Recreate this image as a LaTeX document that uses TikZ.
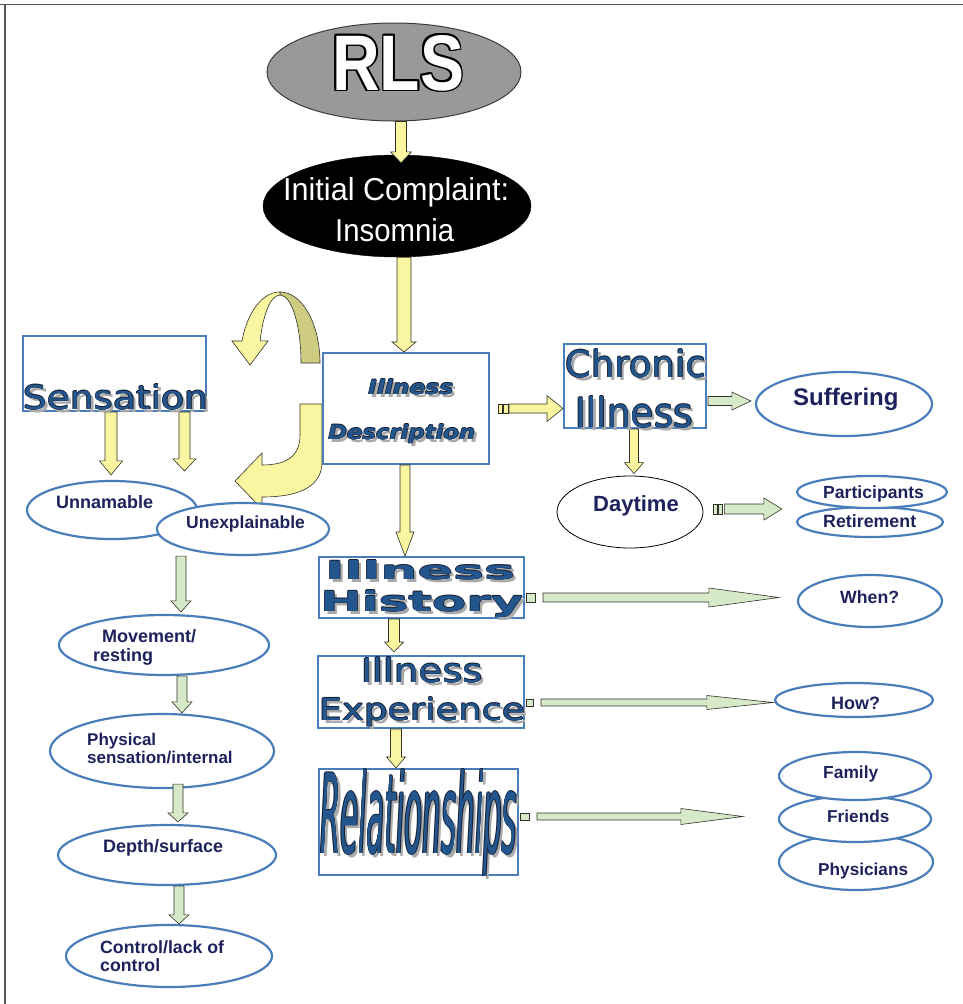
\documentclass[tikz,border=0pt]{standalone}
\usepackage{fontspec}
\setmainfont{Liberation Sans}
\newfontfamily\dvs{DejaVu Sans}
\usetikzlibrary{shapes.geometric,calc}
\definecolor{boxblue}{RGB}{74,126,187}
\definecolor{navy}{RGB}{30,34,92}
\definecolor{txtblue}{RGB}{36,86,142}
\definecolor{outlc}{RGB}{20,30,50}
\definecolor{shgray}{RGB}{170,170,170}
\definecolor{ayel}{RGB}{249,245,160}
\definecolor{aolive}{RGB}{206,204,128}
\definecolor{agreen}{RGB}{214,234,202}
\definecolor{aline}{RGB}{50,50,40}
\definecolor{rlsgray}{RGB}{153,153,153}
\definecolor{framec}{RGB}{85,85,85}

\newcommand\fancy[1]{\leavevmode
 \rlap{\kern3pt\raisebox{-3pt}{\color{shgray}#1}}%
 \rlap{\kern0.7pt\color{outlc}#1}%
 \rlap{\kern-0.7pt\color{outlc}#1}%
 \rlap{\raisebox{0.7pt}{\color{outlc}#1}}%
 \rlap{\raisebox{-0.7pt}{\color{outlc}#1}}%
 {\color{txtblue}#1}}
\newcommand\outlinedtxt[1]{\leavevmode
 \rlap{\kern1.8pt\color{black}#1}%
 \rlap{\kern-1.8pt\color{black}#1}%
 \rlap{\raisebox{1.8pt}{\color{black}#1}}%
 \rlap{\raisebox{-1.8pt}{\color{black}#1}}%
 \rlap{\kern1.3pt\raisebox{1.3pt}{\color{black}#1}}%
 \rlap{\kern-1.3pt\raisebox{1.3pt}{\color{black}#1}}%
 \rlap{\kern1.3pt\raisebox{-1.3pt}{\color{black}#1}}%
 \rlap{\kern-1.3pt\raisebox{-1.3pt}{\color{black}#1}}%
 {\color{white}#1}}

% vertical block arrow: fill, start, end, shaft half, head half, head length
\newcommand\varr[6]{\draw[blk,fill=#1] let \p1=#2, \p2=#3 in
 (\x1-#4pt,\y1) -- (\x1-#4pt,\y2+#6pt) -- (\x1-#5pt,\y2+#6pt) -- (\x1,\y2)
 -- (\x1+#5pt,\y2+#6pt) -- (\x1+#4pt,\y2+#6pt) -- (\x1+#4pt,\y1) -- cycle;}
% horizontal block arrow
\newcommand\harr[6]{\draw[blk,fill=#1] let \p1=#2, \p2=#3 in
 (\x1,\y1+#4pt) -- (\x2-#6pt,\y1+#4pt) -- (\x2-#6pt,\y1+#5pt) -- (\x2,\y1)
 -- (\x2-#6pt,\y1-#5pt) -- (\x2-#6pt,\y1-#4pt) -- (\x1,\y1-#4pt) -- cycle;}
% tail bar: fill, ref point, x from, x to, half height
\newcommand\tailbar[5]{\draw[blk,fill=#1] let \p1=#2 in
 (\x1+#3pt,\y1-#5pt) rectangle (\x1+#4pt,\y1+#5pt);}

\tikzset{
 oval/.style={ellipse, draw=boxblue, line width=2.2pt, fill=white, inner sep=0pt},
 box/.style={rectangle, draw=boxblue, line width=2pt, fill=white, inner sep=0pt},
 lbl/.style={anchor=base west, inner sep=0pt, text=navy, font=\bfseries\fontsize{#1pt}{#1pt}\selectfont},
 lbl/.default=17.5,
 big/.style={anchor=base west, inner sep=0pt},
 blk/.style={draw=aline, line width=0.6pt, line join=miter},
}

\begin{document}
\begin{tikzpicture}[x=1pt,y=1pt]
\useasboundingbox (0,0) rectangle (963,-1004);
\fill[white] (0,0) rectangle (963,-1004);
% frame
\draw[framec, line width=1.6pt] (0,-4.5) -- (963,-4.5);
\draw[framec, line width=1.4pt] (5,-4.5) -- (5,-1004);

% curved ribbon arrows
\draw[blk,fill=aolive] (280,-292) arc[start angle=90, end angle=0, x radius=40, y radius=71]
  -- (301,-363) arc[start angle=0, end angle=90, x radius=21, y radius=68] -- cycle;
\draw[blk,fill=ayel] (232,-341) -- (242,-341) arc[start angle=162, end angle=90, x radius=40, y radius=71]
  -- (280,-295) arc[start angle=90, end angle=161, x radius=21, y radius=68]
  -- (268,-341) -- (250,-365) -- cycle;
\draw[blk,fill=ayel] (300,-404) -- (322,-404) -- (322,-462) .. controls (322,-485) and (302,-497) .. (262,-497)
  -- (262,-509) -- (235,-481) -- (262,-453) -- (262,-465) .. controls (288,-465) and (300,-455) .. (300,-435) -- cycle;

% top ellipses
\node[ellipse, draw={rgb,255:red,60;green,60;blue,60}, line width=1pt, fill=rlsgray, minimum width=254pt, minimum height=98pt, inner sep=0pt] (rls) at (394,-72) {};
\node[ellipse, draw=black, fill=black, minimum width=268pt, minimum height=102pt, inner sep=0pt] (init) at (397,-206) {};

% boxes
\node[box, minimum width=183pt, minimum height=75pt] (sens) at (114.5,-373.5) {};
\node[box, minimum width=166pt, minimum height=111pt] (desc) at (406,-408.5) {};
\node[box, minimum width=142pt, minimum height=84pt] (chron) at (635,-386) {};
\node[box, minimum width=205pt, minimum height=61pt] (hist) at (421.5,-587.5) {};
\node[box, minimum width=206pt, minimum height=72pt] (exp) at (421,-692) {};
\node[box, minimum width=199pt, minimum height=106pt] (rel) at (418.5,-822) {};

% ovals
\node[oval, minimum width=170pt, minimum height=58pt] (unnam) at (112,-510) {};
\node[oval, minimum width=172pt, minimum height=52pt] (unexp) at (243,-529) {};
\node[oval, minimum width=210pt, minimum height=60pt] (mov) at (164,-645) {};
\node[oval, minimum width=224pt, minimum height=74pt] (phys) at (162,-751) {};
\node[oval, minimum width=218pt, minimum height=60pt] (depth) at (167,-855) {};
\node[oval, minimum width=206pt, minimum height=62pt] (ctrl) at (169,-956) {};
\node[oval, minimum width=176pt, minimum height=64pt] (suff) at (844,-404) {};
\node[ellipse, draw=black, line width=0.8pt, fill=white, inner sep=0pt, minimum width=146pt, minimum height=72pt] (day) at (630,-512) {};
\node[oval, minimum width=146pt, minimum height=30pt] (ret) at (870,-522) {};
\node[oval, minimum width=150pt, minimum height=32pt] (part) at (872,-492) {};
\node[oval, minimum width=144pt, minimum height=52pt] (when) at (870,-601) {};
\node[oval, minimum width=158pt, minimum height=34pt] (how) at (854,-700) {};
\node[oval, minimum width=154pt, minimum height=56pt] (phy) at (856,-862) {};
\node[oval, minimum width=152pt, minimum height=46pt] (fri) at (855,-819) {};
\node[oval, minimum width=152pt, minimum height=48pt] (fam) at (855,-776) {};

% yellow vertical arrows
\varr{ayel}{($(rls.south)+(7,0)$)}{($(init.north)+(0,-8)$)}{5.5}{10.5}{11}
\varr{ayel}{($(init.south)+(7,0)$)}{(desc.north)}{7}{12}{10}
\varr{ayel}{($(desc.south)+(-1,0)$)}{(hist.north)}{5}{9}{24}
\varr{ayel}{($(hist.south)+(-27.5,0)$)}{($(exp.north)+(0,3)$)}{5.5}{9.5}{10}
\varr{ayel}{($(exp.south)+(-25,0)$)}{(rel.north)}{5.5}{9.5}{11}
\varr{ayel}{($(sens.south)+(-3.5,0)$)}{($(unnam.north)+(0,5)$)}{6}{11.5}{14}
\varr{ayel}{($(sens.south)+(70,0)$)}{($(unnam.north)+(0,9)$)}{5.5}{11.5}{12}
\varr{ayel}{($(chron.south)+(-1,0)$)}{($(day.north)+(0,2)$)}{4.5}{9.5}{11}
% green vertical arrows
\varr{agreen}{($(unexp.south)+(-62,0)$)}{($(mov.north)+(0,2)$)}{5}{10}{11}
\varr{agreen}{($(mov.south)+(18,0)$)}{(phys.north)}{5}{10}{11}
\varr{agreen}{($(phys.south)+(16,5)$)}{($(depth.north)+(0,2)$)}{5}{10}{9}
\varr{agreen}{($(depth.south)+(12,0)$)}{(ctrl.north)}{5}{10}{9}

% horizontal arrows
\tailbar{ayel}{($(desc.east)+(19,0)$)}{-11}{-6.5}{4.5}
\tailbar{ayel}{($(desc.east)+(19,0)$)}{-5.5}{-1}{4.5}
\harr{ayel}{($(desc.east)+(19,0)$)}{(chron.west)}{4.5}{13}{16}
\harr{agreen}{($(chron.east)+(1,-15)$)}{($(suff.west)+(-4,0)$)}{4.5}{9}{19}
\tailbar{agreen}{($(day.east)+(21,3)$)}{-11}{-7}{5}
\tailbar{agreen}{($(day.east)+(21,3)$)}{-6}{-2}{5}
\harr{agreen}{($(day.east)+(21,3)$)}{($(part.west)+(-14,0)$)}{5}{11}{18}
\tailbar{agreen}{($(hist.east)+(18,-10)$)}{-17}{-8}{4.5}
\harr{agreen}{($(hist.east)+(18,-10)$)}{($(when.west)+(-18,0)$)}{4.5}{9.5}{70}
\tailbar{agreen}{($(exp.east)+(16,-10.5)$)}{-15}{-8}{3.5}
\harr{agreen}{($(exp.east)+(16,-10.5)$)}{($(how.west)+(-1,0)$)}{3.5}{7}{66}
\tailbar{agreen}{($(rel.east)+(18,5.5)$)}{-17}{-8}{3.5}
\harr{agreen}{($(rel.east)+(18,5.5)$)}{($(fri.west)+(-35,0)$)}{3.5}{8}{62}

% texts
\node[big] (rlsT) at (332,-90) {\outlinedtxt{\resizebox{132pt}{55pt}{\bfseries RLS}}};
\node[big, text=white] (initT1) at (283,-200) {\resizebox{226pt}{23pt}{Initial Complaint:}};
\node[big, text=white] (initT2) at (335,-241) {\resizebox{119pt}{23pt}{Insomnia}};

\node[big] (sensT) at (23,-409) {\fancy{\resizebox{185pt}{25pt}{\dvs Sensation}}};
\node[big] (descT1) at (368,-394) {\fancy{\resizebox{85pt}{15pt}{\dvs\bfseries\itshape Illness}}};
\node[big] (descT2) at (328,-439) {\fancy{\resizebox{147pt}{15pt}{\dvs\bfseries\itshape Description}}};
\node[big] (chronT1) at (565,-377) {\fancy{\resizebox{141pt}{28pt}{\dvs Chronic}}};
\node[big] (chronT2) at (575,-427) {\fancy{\resizebox{118pt}{31pt}{\dvs Illness}}};
\node[big] (histT1) at (325,-579) {\fancy{\resizebox{190pt}{19pt}{\dvs\bfseries Illness}}};
\node[big] (histT2) at (320,-611) {\fancy{\resizebox{203pt}{21pt}{\dvs\bfseries History}}};
\node[big] (expT1) at (361,-682) {\fancy{\resizebox{122pt}{25pt}{\dvs Illness}}};
\node[big] (expT2) at (319,-720) {\fancy{\resizebox{206pt}{23pt}{\dvs Experience}}};
\node[big] (relT) at (320,-853) {\fancy{\resizebox{197pt}{84pt}{\dvs\itshape Relationships}}};

\node[lbl=18] (unnamT) at (56,-508) {Unnamable};
\node[lbl=17.5] (unexpT) at (186,-528) {Unexplainable};
\node[lbl=18] (movT1) at (102,-642) {Movement/};
\node[lbl=18] (movT2) at (93,-661) {resting};
\node[lbl=17] (physT1) at (87,-745) {Physical};
\node[lbl=17] (physT2) at (87,-763) {sensation/internal};
\node[lbl=18] (depthT) at (103,-852) {Depth/surface};
\node[lbl=17.7] (ctrlT1) at (100,-953) {Control/lack of};
\node[lbl=17.7] (ctrlT2) at (100,-971) {control};
\node[lbl=24] (suffT) at (793,-405) {Suffering};
\node[lbl=22] (dayT) at (593,-511) {Daytime};
\node[lbl=17.6] (partT) at (823,-498) {Participants};
\node[lbl=17.8] (retT) at (823,-527) {Retirement};
\node[lbl=17.7] (whenT) at (840,-603) {When?};
\node[lbl=18] (howT) at (831,-709) {How?};
\node[lbl=17.4] (famT) at (823,-778) {Family};
\node[lbl=17.2] (friT) at (827,-822) {Friends};
\node[lbl=17.2] (phyT) at (818,-875) {Physicians};
\end{tikzpicture}
\end{document}
